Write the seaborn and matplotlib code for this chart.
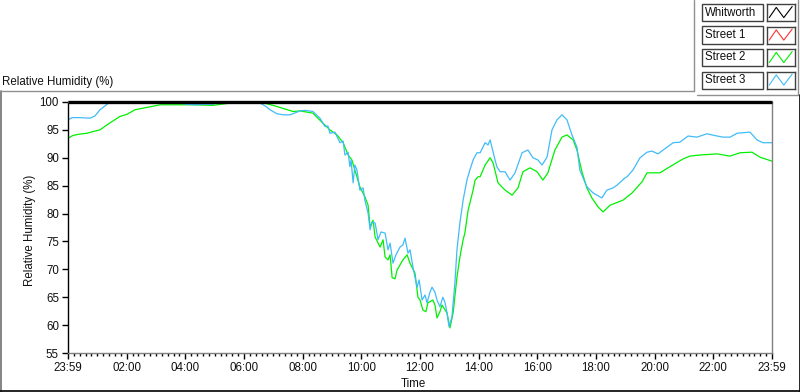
import pandas as pd
import matplotlib.pyplot as plt
import seaborn as sns
from matplotlib.lines import Line2D
from matplotlib.patches import Rectangle
from matplotlib.ticker import MultipleLocator

# ---- Data (hours since 23:59, relative humidity %) ----
whitworth_time = [0.0, 24.0]
whitworth_rh = [100.0, 100.0]

street1_time = []
street1_rh = []

street2_time = [0.00, 0.17, 0.34, 0.65, 0.85, 1.09, 1.33, 1.53, 1.77, 2.01, 2.28, 2.56, 2.86, 3.14,
                4.26, 4.94, 5.52, 5.69, 6.55, 7.12, 7.67, 7.91, 8.35, 8.69, 8.93, 9.17, 9.38, 9.55,
                9.68, 9.78, 9.95, 10.12, 10.23, 10.30, 10.40, 10.47, 10.64, 10.74, 10.81, 10.91,
                10.98, 11.05, 11.15, 11.22, 11.42, 11.56, 11.66, 11.83, 11.93, 12.00, 12.10, 12.20,
                12.27, 12.44, 12.51, 12.58, 12.68, 12.75, 12.92, 13.02, 13.13, 13.26, 13.36, 13.47,
                13.53, 13.64, 13.81, 13.88, 13.98, 14.05, 14.22, 14.39, 14.49, 14.66, 14.90, 15.14,
                15.34, 15.51, 15.75, 15.99, 16.19, 16.36, 16.60, 16.84, 17.01, 17.22, 17.35, 17.52,
                17.69, 17.86, 18.07, 18.24, 18.48, 18.92, 19.23, 19.57, 19.74, 20.18, 20.52, 20.97,
                21.20, 21.55, 22.13, 22.57, 22.91, 23.32, 23.59, 24.00]
street2_rh = [93.5, 94.0, 94.2, 94.4, 94.7, 95.0, 95.9, 96.6, 97.4, 97.8, 98.6, 98.9, 99.2, 99.5,
              99.5, 99.4, 99.8, 100.0, 100.0, 99.2, 98.3, 98.4, 98.0, 96.2, 95.0, 94.1, 92.7, 90.5,
              89.6, 87.8, 84.8, 83.0, 81.5, 77.6, 78.8, 75.8, 74.0, 75.3, 72.2, 71.7,
              72.6, 68.5, 68.3, 69.9, 71.7, 72.6, 71.1, 69.3, 65.0, 64.5, 62.7, 62.4,
              64.0, 64.5, 63.6, 61.3, 62.4, 63.6, 62.2, 59.5, 62.2, 68.6, 72.2, 75.3,
              76.5, 80.6, 84.2, 86.0, 86.6, 86.6, 88.7, 90.0, 89.1, 85.5, 84.2, 83.3,
              84.6, 87.5, 88.2, 87.5, 86.0, 87.3, 91.4, 93.7, 94.1, 93.2, 91.4, 87.5,
              84.6, 82.8, 81.2, 80.3, 81.5, 82.4, 83.7, 85.7, 87.3, 87.3, 88.4, 89.8,
              90.3, 90.5, 90.7, 90.3, 90.9, 91.0, 90.1, 89.4]

street3_time = [0.00, 0.14, 0.41, 0.75, 0.92, 1.09, 1.33, 1.43, 3.82, 3.99, 4.33, 4.67, 4.94, 5.11,
                6.48, 6.72, 6.89, 7.12, 7.33, 7.57, 7.91, 8.08, 8.35, 8.59, 8.76, 8.86, 8.93, 9.10,
                9.27, 9.38, 9.44, 9.55, 9.61, 9.65, 9.72, 9.78, 9.85, 9.95, 10.06, 10.12, 10.23,
                10.30, 10.36, 10.47, 10.57, 10.67, 10.81, 10.91, 10.98, 11.08, 11.18, 11.32, 11.42,
                11.49, 11.59, 11.66, 11.76, 11.90, 11.97, 12.07, 12.17, 12.24, 12.34, 12.41, 12.51,
                12.58, 12.68, 12.78, 12.85, 12.92, 12.99, 13.09, 13.19, 13.26, 13.36, 13.47, 13.60,
                13.70, 13.81, 13.94, 14.05, 14.22, 14.32, 14.39, 14.45, 14.56, 14.62, 14.73, 14.90,
                15.07, 15.24, 15.48, 15.68, 15.85, 16.02, 16.16, 16.33, 16.50, 16.67, 16.84, 17.01,
                17.18, 17.35, 17.45, 17.59, 17.69, 17.90, 18.03, 18.20, 18.37, 18.58, 18.72, 18.99,
                19.06, 19.26, 19.40, 19.50, 19.74, 19.91, 20.11, 20.42, 20.63, 20.86, 21.14, 21.44,
                21.78, 22.13, 22.33, 22.57, 22.81, 23.25, 23.49, 23.69, 24.00]
street3_rh = [96.8, 97.2, 97.2, 97.1, 97.5, 98.6, 99.6, 100.0, 100.0, 99.6, 99.5, 99.6, 99.6, 100.0,
              100.0, 99.3, 98.6, 97.9, 97.7, 97.7, 98.4, 98.5, 98.3, 97.1, 95.6, 95.7, 94.4, 94.6,
              92.7, 93.0, 90.5, 91.0, 88.4, 89.6, 85.5, 88.7, 87.8, 84.2, 84.6, 82.4, 80.1,
              77.1, 78.5, 78.3, 75.3, 76.7, 76.5, 73.5, 74.7, 71.1, 72.6, 74.0, 74.4,
              75.6, 72.9, 73.5, 70.4, 66.8, 68.1, 64.5, 65.4, 64.0, 65.9, 66.8, 65.9,
              64.5, 63.3, 65.0, 64.1, 62.2, 59.7, 61.5, 67.6, 73.5, 78.3, 82.4, 86.0,
              87.8, 89.6, 90.9, 90.9, 92.7, 92.3, 93.2, 91.9, 89.6, 88.4, 87.5, 87.5,
              86.0, 87.3, 90.9, 91.4, 90.0, 89.6, 88.7, 90.1, 95.0, 96.8, 97.7, 96.8,
              94.1, 91.9, 87.8, 86.0, 84.8, 83.7, 83.3, 82.8, 84.2, 84.6, 85.1, 86.4,
              86.6, 87.8, 89.1, 90.0, 91.0, 91.2, 90.7, 91.9, 92.7, 92.8, 93.9, 93.7,
              94.3, 93.9, 93.7, 93.7, 94.4, 94.6, 93.2, 92.7, 92.7]

series_names = ["Whitworth", "Street 1", "Street 2", "Street 3"]
series_colors = ["#000000", "#ff3030", "#00f000", "#40bcf8"]
x_tick_labels = ["23:59", "02:00", "04:00", "06:00", "08:00", "10:00", "12:00",
                 "14:00", "16:00", "18:00", "20:00", "22:00", "23:59"]

frames = []
for name, t, rh in [("Street 1", street1_time, street1_rh),
                    ("Street 2", street2_time, street2_rh),
                    ("Street 3", street3_time, street3_rh)]:
    frames.append(pd.DataFrame({"Time": t, "RH": rh, "Series": name}))
df = pd.concat(frames, ignore_index=True)

# ---- Figure ----
sns.set_style("white")
plt.rcParams['font.family'] = ['Liberation Sans', 'DejaVu Sans']
plt.rcParams['font.size'] = 8.3

W, H = 800, 392
fig = plt.figure(figsize=(8, 3.92), dpi=100)
ax = fig.add_axes([68 / W, 1 - 353 / H, (772 - 68) / W, (353 - 102) / H])

sns.lineplot(data=df, x="Time", y="RH", hue="Series", hue_order=["Street 1", "Street 2", "Street 3"],
             palette=dict(zip(series_names, series_colors)), estimator=None, sort=False,
             linewidth=0.9, legend=False, ax=ax)
ax.plot(whitworth_time, whitworth_rh, color=series_colors[0], linewidth=2.4,
        solid_capstyle="butt", clip_on=False, zorder=5)

ax.set_xlim(0, 24)
ax.set_ylim(55, 100)
ax.set_xticks(range(0, 25, 2))
ax.set_xticklabels(x_tick_labels)
ax.xaxis.set_minor_locator(MultipleLocator(0.2))
ax.set_yticks(range(55, 101, 5))
ax.tick_params(axis="both", which="major", direction="out", length=4, width=1,
               color="black", labelcolor="#101010", pad=2.5, bottom=True, left=True)
ax.tick_params(axis="x", which="minor", direction="out", length=2.5, width=1,
               color="black", bottom=True)

for side in ["left"]:
    ax.spines[side].set_color("black")
for side in ["bottom", "right", "top"]:
    ax.spines[side].set_color("#808080")
for s in ax.spines.values():
    s.set_linewidth(1)

ax.set_xlabel("Time", color="#101010")
ax.xaxis.set_label_coords(0.491, -0.1235)
ax.xaxis.label.set_va("center")
ax.set_ylabel("Relative Humidity (%)", color="#101010")
ax.yaxis.set_label_coords(-0.054, 0.49)
ax.yaxis.label.set_va("center")

fig.text(2 / W, 1 - 82 / H, "Relative Humidity (%)", ha="left", va="center", color="#101010")


def fig_line(x0, y0, x1, y1, color, lw=1.0):
    fig.add_artist(Line2D([x0 / W, x1 / W], [1 - y0 / H, 1 - y1 / H],
                          transform=fig.transFigure, color=color, linewidth=lw))


# window frame
fig_line(0.5, 91, 0.5, 392, "#707070", 1.2)
fig_line(0, 91, 694, 91, "#909090")
fig_line(694, 0, 694, 91, "#909090")
fig_line(697, 95, 798, 95, "#909090")
fig_line(798, 0, 798, 95, "#909090")
fig_line(799.5, 95, 799.5, 392, "#000000", 1.2)
fig_line(0, 390.5, 800, 390.5, "#000000", 1.2)

# legend
for i, (name, color) in enumerate(zip(series_names, series_colors)):
    top = 4 + 22.5 * i
    fig.add_artist(Rectangle((702 / W, 1 - (top + 17) / H), 61 / W, 17 / H,
                             transform=fig.transFigure, facecolor="white",
                             edgecolor="#404040", linewidth=1))
    fig.text(705 / W, 1 - (top + 8.5) / H, name, ha="left", va="center", color="#101010")
    sw = fig.add_axes([767 / W, 1 - (top + 17) / H, 28 / W, 17 / H])
    sw.plot([0.08, 0.33, 0.6, 0.9], [0.2, 0.8, 0.2, 0.85], color=color, linewidth=0.8)
    sw.set_xlim(0, 1)
    sw.set_ylim(0, 1)
    sw.set_xticks([])
    sw.set_yticks([])
    for s in sw.spines.values():
        s.set_color("#404040")
        s.set_linewidth(1)

fig.savefig("out.png", dpi=100)
